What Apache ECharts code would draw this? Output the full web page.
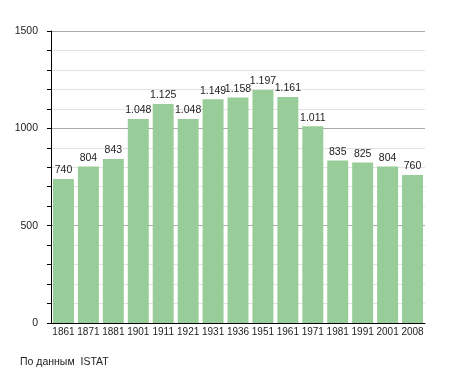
<!DOCTYPE html>
<html><head><meta charset="utf-8">
<script src="https://cdn.jsdelivr.net/npm/echarts@6/dist/echarts.min.js"></script>
<style>html,body{margin:0;padding:0;background:#fff}#c{width:455px;height:373px}</style>
</head><body><div id="c"></div>
<script>
const years = ['1861','1871','1881','1901','1911','1921','1931','1936','1951','1961','1971','1981','1991','2001','2008'];
const population = [740,804,843,1048,1125,1048,1149,1158,1197,1161,1011,835,825,804,760];
const yTicks = [0,500,1000,1500];
const sourceText = 'По данным  ISTAT';

const fmt = v => v >= 1000 ? Math.floor(v/1000) + '.' + String(v%1000).padStart(3,'0') : String(v);
const FONT = '"Liberation Sans", Arial, sans-serif';
const chart = echarts.init(document.getElementById('c'), null, {renderer:'canvas'});
chart.setOption({
  animation:false,
  backgroundColor:'#fff',
  grid:{left:51,right:30,top:31,bottom:50},
  graphic:[{type:'text',left:20,top:357,style:{text:sourceText,font:'10.5px "Liberation Sans", Arial, sans-serif',fill:'#222'}}],
  xAxis:{type:'category',data:years,
    axisLine:{lineStyle:{color:'#000',width:1}},
    axisTick:{show:false},
    axisLabel:{color:'#222',fontSize:10,fontFamily:FONT,margin:4,interval:0}},
  yAxis:{type:'value',min:0,max:1500,interval:100,
    axisLine:{show:true,lineStyle:{color:'#000',width:1}},
    axisTick:{show:true,length:4,lineStyle:{color:'#000'}},
    axisLabel:{color:'#222',fontSize:10.5,fontFamily:FONT,margin:13,
      formatter:v => yTicks.includes(v) ? String(v) : ''},
    splitLine:{show:true,lineStyle:{color:['#aaa','#e2e2e2','#e2e2e2','#e2e2e2','#e2e2e2'],width:1}}},
  series:[{type:'bar',data:population,barCategoryGap:'16%',
    itemStyle:{color:'#98cc98'},
    label:{show:true,position:'top',distance:3,color:'#222',fontSize:10.5,fontFamily:FONT,
      formatter:p => fmt(p.value)}}]
});
</script></body></html>
